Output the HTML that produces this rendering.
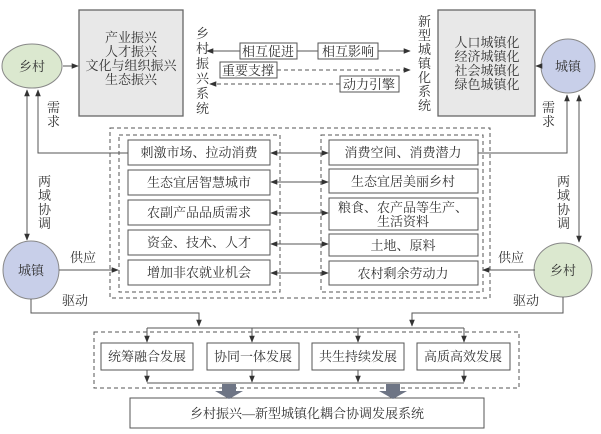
<!DOCTYPE html>
<html><head><meta charset="utf-8"><style>
html,body{margin:0;padding:0;background:#fff}
svg{display:block}
text{font-family:"Liberation Serif","Noto Serif CJK SC",serif;fill:#333;font-size:13px}
</style></head><body>
<svg width="601" height="434" viewBox="0 0 601 434" xmlns="http://www.w3.org/2000/svg">
<defs>
<marker id="a" viewBox="0 0 10 10" refX="9" refY="5" markerWidth="7" markerHeight="7" orient="auto-start-reverse"><path d="M0,1 L10,5 L0,9 z" fill="#333"/></marker>
</defs>
<g stroke="#555" fill="none" stroke-width="1">
<!-- top gray boxes -->
<rect x="79" y="10" width="104" height="106" fill="#e8e8e8" stroke="#666" stroke-width="1.3"/>
<rect x="438" y="10" width="97" height="106" fill="#e8e8e8" stroke="#666" stroke-width="1.3"/>
<!-- circles -->
<ellipse cx="32" cy="66" rx="30" ry="22" fill="#dbe8cf" stroke="#888"/>
<circle cx="568" cy="66" r="27" fill="#c8cfe9" stroke="#888"/>
<ellipse cx="31" cy="270" rx="28" ry="29" fill="#c8cfe9" stroke="#888"/>
<ellipse cx="563" cy="270" rx="29" ry="27" fill="#dbe8cf" stroke="#888"/>
<!-- circle to box arrows -->
<line x1="63" y1="66" x2="78" y2="66" marker-end="url(#a)"/>
<line x1="541" y1="66" x2="536" y2="66" marker-end="url(#a)"/>
<!-- middle label connectors -->
<line x1="240" y1="51" x2="207" y2="51" marker-end="url(#a)"/>
<line x1="297" y1="51" x2="318" y2="51"/>
<line x1="378" y1="51" x2="410" y2="51" marker-end="url(#a)"/>
<rect x="240" y="43" width="57" height="16"/>
<rect x="318" y="43" width="60" height="16"/>
<line x1="277" y1="70" x2="410" y2="70" stroke-dasharray="4,3" marker-end="url(#a)"/>
<rect x="220" y="62" width="57" height="16"/>
<line x1="340" y1="84" x2="210" y2="84" stroke-dasharray="4,3" marker-end="url(#a)"/>
<rect x="340" y="76" width="59" height="16"/>
<!-- left verticals -->
<line x1="27" y1="90" x2="27" y2="240" marker-start="url(#a)" marker-end="url(#a)"/>
<polyline points="128,153 38,153 38,90" marker-end="url(#a)"/>
<polyline points="478,153 567,153 567,95" marker-end="url(#a)"/>
<line x1="579" y1="95" x2="579" y2="242" marker-start="url(#a)" marker-end="url(#a)"/>
<!-- 供应 arrows -->
<line x1="59" y1="270" x2="118" y2="270" marker-end="url(#a)"/>
<line x1="535" y1="270" x2="483" y2="270" marker-end="url(#a)"/>
<!-- dashed containers -->
<rect x="110" y="128" width="380" height="170" stroke-dasharray="4,3"/>
<rect x="119" y="135" width="161" height="157" stroke-dasharray="4,3"/>
<rect x="321" y="135" width="162" height="157" stroke-dasharray="4,3"/>
<!-- left boxes -->
<rect x="128" y="140" width="142" height="25"/>
<rect x="128" y="170" width="142" height="25"/>
<rect x="128" y="200" width="142" height="25"/>
<rect x="128" y="230" width="142" height="25"/>
<rect x="128" y="260" width="142" height="25"/>
<!-- right boxes -->
<rect x="329" y="140" width="149" height="25"/>
<rect x="329" y="169" width="149" height="24"/>
<rect x="329" y="198" width="149" height="32"/>
<rect x="329" y="234" width="149" height="22"/>
<rect x="329" y="261" width="149" height="24"/>
<!-- double arrows -->
<line x1="271" y1="153" x2="328" y2="153" marker-start="url(#a)" marker-end="url(#a)"/>
<line x1="271" y1="182" x2="328" y2="182" marker-start="url(#a)" marker-end="url(#a)"/>
<line x1="271" y1="213" x2="328" y2="213" marker-start="url(#a)" marker-end="url(#a)"/>
<line x1="271" y1="244" x2="328" y2="244" marker-start="url(#a)" marker-end="url(#a)"/>
<line x1="271" y1="273" x2="328" y2="273" marker-start="url(#a)" marker-end="url(#a)"/>
<!-- drive lines -->
<polyline points="31,299 31,313 199,313 199,326" marker-end="url(#a)"/>
<polyline points="563,297 563,313 412,313 412,326" marker-end="url(#a)"/>
<rect x="94" y="332" width="425" height="56" stroke-dasharray="4,3"/>
<line x1="147" y1="328" x2="464" y2="328"/>
<line x1="147" y1="328" x2="147" y2="342" marker-end="url(#a)"/>
<line x1="252" y1="328" x2="252" y2="342" marker-end="url(#a)"/>
<line x1="358" y1="328" x2="358" y2="342" marker-end="url(#a)"/>
<line x1="464" y1="328" x2="464" y2="342" marker-end="url(#a)"/>
<rect x="101" y="343" width="92" height="27"/>
<rect x="207" y="343" width="92" height="27"/>
<rect x="312" y="343" width="92" height="27"/>
<rect x="417" y="343" width="93" height="27"/>
<line x1="147" y1="370" x2="147" y2="382" marker-end="url(#a)"/>
<line x1="252" y1="370" x2="252" y2="382" marker-end="url(#a)"/>
<line x1="358" y1="370" x2="358" y2="382" marker-end="url(#a)"/>
<line x1="464" y1="370" x2="464" y2="382" marker-end="url(#a)"/>
<line x1="147" y1="383" x2="464" y2="383"/>
<rect x="130" y="398" width="354" height="30"/>
</g>
<!-- big gray arrows -->
<path d="M222,384 h14 v7 h7 l-14,8 l-14,-8 h7z" fill="#6e7585"/>
<path d="M386,384 h14 v7 h7 l-14,8 l-14,-8 h7z" fill="#6e7585"/>
<!-- texts -->
<g text-anchor="middle">
<text x="131" y="42">产业振兴</text>
<text x="131" y="56">人才振兴</text>
<text x="131" y="70">文化与组织振兴</text>
<text x="131" y="84">生态振兴</text>
<text x="487" y="47">人口城镇化</text>
<text x="487" y="61">经济城镇化</text>
<text x="487" y="75">社会城镇化</text>
<text x="487" y="89">绿色城镇化</text>
<text x="32" y="71" font-size="12">乡村</text>
<text x="568" y="71" font-size="12">城镇</text>
<text x="31" y="275" font-size="12">城镇</text>
<text x="563" y="275" font-size="12">乡村</text>
<text x="268" y="56" font-size="12">相互促进</text>
<text x="348" y="56" font-size="12">相互影响</text>
<text x="248" y="75" font-size="12">重要支撑</text>
<text x="369" y="89" font-size="12">动力引擎</text>
<text x="199" y="157">刺激市场、拉动消费</text>
<text x="199" y="187">生态宜居智慧城市</text>
<text x="199" y="217">农副产品品质需求</text>
<text x="199" y="247">资金、技术、人才</text>
<text x="199" y="277">增加非农就业机会</text>
<text x="403" y="157">消费空间、消费潜力</text>
<text x="403" y="186">生态宜居美丽乡村</text>
<text x="403" y="212">粮食、农产品等生产、</text>
<text x="403" y="226">生活资料</text>
<text x="403" y="250">土地、原料</text>
<text x="403" y="278">农村剩余劳动力</text>
<text x="147" y="361">统筹融合发展</text>
<text x="253" y="361">协同一体发展</text>
<text x="358" y="361">共生持续发展</text>
<text x="463" y="361">高质高效发展</text>
<text x="307" y="418" font-size="14">乡村振兴—新型城镇化耦合协调发展系统</text>
</g>
<g font-size="13">
<text x="196" y="38">乡</text><text x="196" y="53">村</text><text x="196" y="68">振</text><text x="196" y="83">兴</text><text x="196" y="98">系</text><text x="196" y="113">统</text>
<text x="418" y="26">新</text><text x="418" y="40">型</text><text x="418" y="54">城</text><text x="418" y="68">镇</text><text x="418" y="82">化</text><text x="418" y="96">系</text><text x="418" y="110">统</text>
<text x="47" y="112">需</text><text x="47" y="126">求</text>
<text x="542" y="112">需</text><text x="542" y="126">求</text>
<text x="38" y="186">两</text><text x="38" y="200">域</text><text x="38" y="214">协</text><text x="38" y="228">调</text>
<text x="557" y="186">两</text><text x="557" y="200">域</text><text x="557" y="214">协</text><text x="557" y="228">调</text>
<text x="70" y="262">供应</text>
<text x="498" y="262">供应</text>
<text x="62" y="305">驱动</text>
<text x="513" y="305">驱动</text>
</g>
</svg>
</body></html>
